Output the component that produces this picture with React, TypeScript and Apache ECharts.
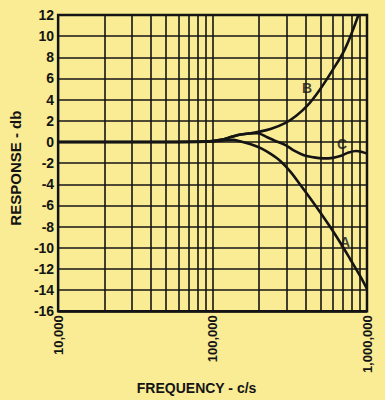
import React, { useEffect, useRef } from "react";
import * as echarts from "echarts";

const yTicks = [-16, -14, -12, -10, -8, -6, -4, -2, 0, 2, 4, 6, 8, 10, 12];
const minorFreqs = [20000, 30000, 40000, 50000, 60000, 70000, 80000, 90000, 200000, 300000, 400000, 500000, 600000, 700000, 800000, 900000];

const aFreq = [10000, 50000, 90000, 113000, 135000, 152500, 176900, 205100, 237800, 275800, 319800, 370800, 429900, 498500, 578200, 670500, 777500, 901600, 1000000];
const aDb = [0, 0, 0.03, 0.12, 0.2, 0.05, -0.21, -0.58, -1.13, -1.82, -2.82, -4.06, -5.34, -6.66, -8.04, -9.5, -11.06, -12.66, -13.89];

const bFreq = [10000, 50000, 90000, 113000, 135000, 152000, 175000, 195000, 240000, 297000, 350000, 409000, 487000, 593000, 721000, 880000];
const bDb = [0, 0, 0.04, 0.2, 0.52, 0.7, 0.82, 0.93, 1.25, 1.8, 2.5, 3.4, 4.8, 6.7, 8.8, 12];

const cFreq = [10000, 50000, 90000, 113000, 135000, 152000, 175000, 195000, 226000, 260000, 297000, 340000, 390000, 450000, 520000, 600000, 680000, 760000, 850000, 930000, 1000000];
const cDb = [0, 0, 0.04, 0.2, 0.52, 0.7, 0.8, 0.82, 0.45, 0.05, -0.3, -0.85, -1.25, -1.45, -1.55, -1.5, -1.3, -1.0, -0.85, -0.95, -1.1];

const labelNames = ["A", "B", "C"];
const labelFreq = [722000, 409000, 690000];
const labelDb = [-9.5, 5.14, -0.17];

const FONT = "'Liberation Sans', Arial, Helvetica, sans-serif";
const INK = "#141414";
const PAPER = "#F9EC94";

function pairs(xs: number[], ys: number[]) {
  return xs.map((x, i) => [x, ys[i]]);
}

export default function App() {
  const ref = useRef<HTMLDivElement>(null);
  useEffect(() => {
    if (!ref.current) return;
    const chart = echarts.init(ref.current, undefined, { renderer: "svg" });
    const curve = (name: string, data: number[][]) => ({
      name,
      type: "line",
      data,
      smooth: 0.35,
      symbol: "none",
      lineStyle: { color: INK, width: 2.6 },
      z: 5,
    });
    chart.setOption({
      animation: false,
      backgroundColor: PAPER,
      grid: {
        left: 56,
        right: 18,
        top: 15,
        bottom: 79,
        show: true,
        borderColor: INK,
        borderWidth: 2.5,
      },
      xAxis: {
        type: "log",
        logBase: 10,
        min: 10000,
        max: 1000000,
        name: "FREQUENCY - c/s",
        nameLocation: "middle",
        nameGap: 54,
        nameTextStyle: {
          fontFamily: FONT,
          fontWeight: "bold",
          fontSize: 14,
          color: INK,
          padding: [0, 32, 0, 0],
        },
        axisLine: { show: false },
        axisTick: { show: false },
        axisLabel: {
          rotate: 90,
          margin: 4,
          fontFamily: FONT,
          fontWeight: "bold",
          fontSize: 13,
          color: INK,
          formatter: (v: number) => Math.round(v).toLocaleString("en-US"),
        },
        splitLine: { show: true, lineStyle: { color: INK, width: 1.6 } },
      },
      yAxis: {
        type: "value",
        min: -16,
        max: 12,
        interval: 2,
        name: "RESPONSE - db",
        nameLocation: "middle",
        nameGap: 28,
        nameTextStyle: {
          fontFamily: FONT,
          fontWeight: "bold",
          fontSize: 15,
          color: INK,
          padding: [0, 10, 0, 0],
        },
        axisLine: { show: false },
        axisTick: { show: false },
        axisLabel: {
          margin: 4,
          fontFamily: FONT,
          fontWeight: "bold",
          fontSize: 14,
          color: INK,
          formatter: (v: number) => (yTicks.includes(v) ? String(v) : ""),
        },
        splitLine: { show: true, lineStyle: { color: INK, width: 1.6 } },
      },
      series: [
        {
          type: "line",
          data: [],
          silent: true,
          markLine: {
            silent: true,
            symbol: "none",
            label: { show: false },
            lineStyle: { color: INK, width: 1.6, type: "solid" },
            data: minorFreqs.map((v) => ({ xAxis: v })),
          },
          z: 1,
        },
        curve("A", pairs(aFreq, aDb)),
        curve("C", pairs(cFreq, cDb)),
        curve("B", pairs(bFreq, bDb)),
        {
          type: "scatter",
          symbolSize: 0,
          z: 6,
          data: labelNames.map((n, i) => ({ name: n, value: [labelFreq[i], labelDb[i]] })),
          label: {
            show: true,
            position: "inside",
            formatter: (p: any) => p.name,
            fontFamily: FONT,
            fontWeight: "bold",
            fontSize: 14,
            color: INK,
          },
        },
      ],
    });
    return () => chart.dispose();
  }, []);
  return (
    <div
      ref={ref}
      style={{ position: "fixed", left: 0, top: 0, width: 385, height: 400 }}
    />
  );
}
